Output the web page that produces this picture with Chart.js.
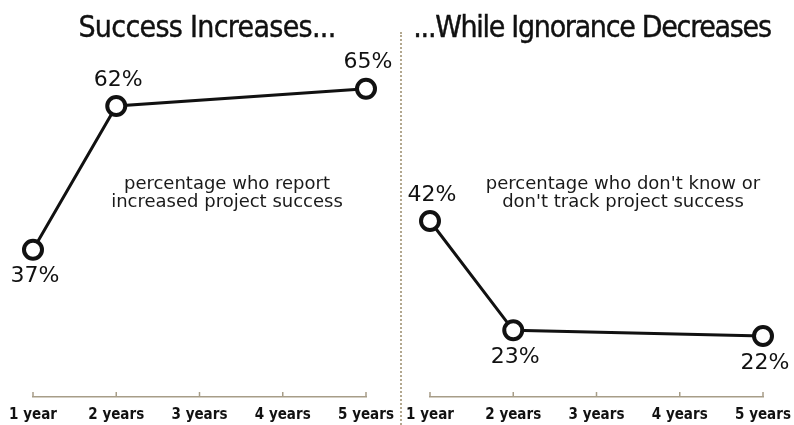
<!DOCTYPE html>
<html>
<head>
<meta charset="utf-8">
<script src="https://cdn.jsdelivr.net/npm/chart.js@4/dist/chart.umd.min.js"></script>
<style>
  html, body { margin: 0; padding: 0; background: #fff; }
  #wrap { position: relative; width: 794px; height: 425px; overflow: hidden; }
  .panel { position: absolute; top: 0; height: 425px; }
  .title {
    position: absolute; top: 9px; text-align: center; white-space: nowrap;
    font-family: 'Liberation Sans Narrow', 'DejaVu Sans Condensed', sans-serif;
    font-size: 30px; color: #111; letter-spacing: -0.7px;
    -webkit-text-stroke: 0.4px #111;
  }
  .note {
    position: absolute; top: 174px; text-align: center; white-space: nowrap;
    font-family: 'DejaVu Sans', sans-serif; font-size: 18px; line-height: 18px; color: #1a1a1a;
  }
  #divider {
    position: absolute; left: 400px; top: 32px; height: 393px; width: 0;
    border-left: 2px dotted #b3a88f;
  }
</style>
</head>
<body>
<div id="wrap">
  <div class="panel" style="left:0; width:400px;"><canvas id="successChart" width="400" height="425"></canvas></div>
  <div class="panel" style="left:402px; width:392px;"><canvas id="ignoranceChart" width="392" height="425"></canvas></div>
  <div id="divider"></div>
  <div class="title" style="left:57px; width:300px;">Success Increases...</div>
  <div class="title" style="left:412px; width:360px; letter-spacing:-1.3px;">...While Ignorance Decreases</div>
  <div class="note" style="left:77px; width:300px;">percentage who report<br>increased project success</div>
  <div class="note" style="left:473px; width:300px;">percentage who don't know or<br>don't track project success</div>
</div>

<script>
// --- Data ---
const yearLabels = ['1 year', '2 years', '3 years', '4 years', '5 years'];
const successValues = [37, 62, null, null, 65];
const ignoranceValues = [42, 23, null, null, 22];

// where each value label sits relative to its point
const successLabelSide = ['below', 'above', null, null, 'above'];
const ignoranceLabelSide = ['above', 'below', null, null, 'below'];

// shared vertical range so both panels use the same scale
const yMin = 11.4;
const yMax = 70;

const axisColor = '#a79d88';

Chart.defaults.font.family = "'DejaVu Sans', sans-serif";
Chart.defaults.color = '#111';

// value labels above / below points
const valueLabels = {
  id: 'valueLabels',
  afterDatasetsDraw(chart, args, opts) {
    const ctx = chart.ctx;
    const meta = chart.getDatasetMeta(0);
    const values = chart.data.datasets[0].data;
    ctx.save();
    ctx.font = "22px 'DejaVu Sans', sans-serif";
    ctx.fillStyle = '#111';
    ctx.textAlign = 'center';
    ctx.textBaseline = 'middle';
    meta.data.forEach((pt, i) => {
      if (values[i] == null) return;
      const dy = opts.sides[i] === 'above' ? -26 : 27;
      ctx.fillText(values[i] + '%', pt.x + 2, pt.y + dy);
    });
    ctx.restore();
  }
};

// small upward tick marks on the x axis
const upTicks = {
  id: 'upTicks',
  afterDraw(chart) {
    const x = chart.scales.x;
    const ctx = chart.ctx;
    ctx.save();
    ctx.strokeStyle = axisColor;
    ctx.lineWidth = 1.5;
    x.ticks.forEach((_, i) => {
      const px = x.getPixelForTick(i);
      ctx.beginPath();
      ctx.moveTo(px, x.top - 5);
      ctx.lineTo(px, x.top);
      ctx.stroke();
    });
    ctx.restore();
  }
};

function drawPanel(canvasId, values, sides, padLeft, padRight) {
  const ctx = document.getElementById(canvasId).getContext('2d');
  return new Chart(ctx, {
    type: 'line',
    data: {
      labels: yearLabels,
      datasets: [{
        data: values,
        spanGaps: true,
        borderColor: '#111',
        borderWidth: 3,
        tension: 0,
        pointRadius: 9,
        pointBorderWidth: 4,
        pointBackgroundColor: '#fff',
        pointBorderColor: '#111'
      }]
    },
    options: {
      responsive: false,
      animation: false,
      layout: { padding: { top: 60, bottom: 2, left: padLeft, right: padRight } },
      plugins: {
        legend: { display: false },
        tooltip: { enabled: false },
        valueLabels: { sides: sides }
      },
      scales: {
        x: {
          offset: false,
          afterFit: (scale) => {
            scale.height = 26;
            scale.paddingLeft = 0;
            scale.paddingRight = 0;
          },
          grid: { display: false, drawTicks: false },
          border: { display: true, color: axisColor, width: 1.5, dash: [2, 2] },
          ticks: {
            padding: 9,
            maxRotation: 0,
            autoSkip: false,
            color: '#111',
            font: { family: "'DejaVu Sans Condensed', 'DejaVu Sans', sans-serif", size: 15, weight: 'bold' }
          }
        },
        y: { display: false, min: yMin, max: yMax }
      }
    },
    plugins: [valueLabels, upTicks]
  });
}

document.addEventListener('DOMContentLoaded', () => {
  drawPanel('successChart', successValues, successLabelSide, 33, 34);
  drawPanel('ignoranceChart', ignoranceValues, ignoranceLabelSide, 28, 31);
});
</script>
</body>
</html>
